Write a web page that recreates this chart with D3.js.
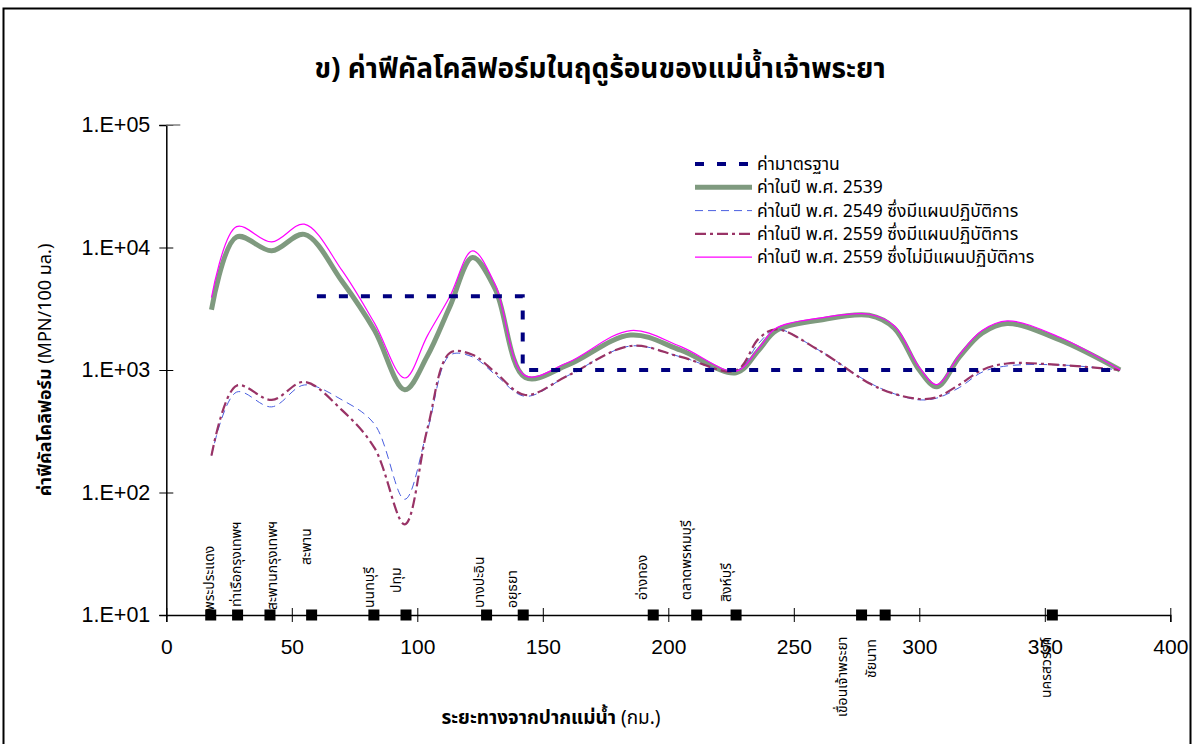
<!DOCTYPE html>
<html>
<head>
<meta charset="utf-8">
<script src="https://cdn.jsdelivr.net/npm/d3@7"></script>
<style>
  html, body { margin: 0; padding: 0; background: #fff; }
  svg { display: block; }
  text { font-family: "Liberation Sans", Arial, "Noto Sans Thai", Tahoma, sans-serif; fill: #000; }
</style>
</head>
<body>
<svg id="chart" width="1195" height="744"></svg>
<script>
// Distance from the river mouth (km) at which each series is sampled
const kms = [18, 28, 42, 55, 70, 83, 95, 104, 113, 122, 131, 143, 160, 185, 205, 227, 236, 243, 260, 280, 290, 300, 307, 316, 325, 335, 356, 380];

// Faecal coliform, MPN/100 ml
const y2539        = [3100, 12200, 9400, 12800, 5300, 2100, 690, 1300, 3300, 8300, 4600, 870, 1100, 1930, 1450, 950, 1450, 2100, 2550, 2800, 2200, 1000, 730, 1280, 2000, 2400, 1760, 1000];
const y2549Plan    = [200, 660, 500, 755, 570, 360, 88, 320, 1320, 1280, 920, 610, 900, 1570, 1280, 980, 1650, 2150, 1450, 790, 640, 570, 590, 720, 960, 1080, 1100, 1000];
const y2559Plan    = [200, 745, 570, 800, 470, 230, 55, 330, 1380, 1330, 960, 625, 900, 1570, 1280, 990, 1800, 2150, 1450, 780, 640, 580, 600, 760, 1000, 1130, 1100, 1000];
const y2559NoPlan  = [3900, 14800, 11100, 15500, 6500, 2400, 860, 1900, 4000, 9400, 5000, 900, 1150, 2100, 1550, 980, 1500, 2200, 2650, 2850, 2300, 1050, 760, 1330, 2100, 2520, 1850, 1000];

// Standard limit (step line)
const stdKm    = [60, 142, 142, 380];
const stdValue = [4000, 4000, 1000, 1000];

// Monitoring stations
const stationKm   = [17.7, 28.4, 41.3, 57.9, 82.7, 95.5, 127.6, 142.2, 194, 211.3, 227, 277, 286.4, 353];
const stationName = ["พระประแดง", "ท่าเรือกรุงเทพฯ", "สะพานกรุงเทพฯ", "สะพาน", "นนทบุรี", "ปทุม", "บางปะอิน", "อยุธยา",
                     "อ่างทอง", "ตลาดพรหมบุรี", "สิงห์บุรี", "เขื่อนเจ้าพระยา", "ชัยนาท", "นครสวรรค์"];

const xTicks = [0, 50, 100, 150, 200, 250, 300, 350, 400];
const yTicks = [10, 100, 1000, 10000, 100000];
const yTickLabels = ["1.E+01", "1.E+02", "1.E+03", "1.E+04", "1.E+05"];

const legendLabels = [
  "ค่ามาตรฐาน",
  "ค่าในปี พ.ศ. 2539",
  "ค่าในปี พ.ศ. 2549 ซึ่งมีแผนปฏิบัติการ",
  "ค่าในปี พ.ศ. 2559 ซึ่งมีแผนปฏิบัติการ",
  "ค่าในปี พ.ศ. 2559 ซึ่งไม่มีแผนปฏิบัติการ"
];

// ---- layout ----
const svg = d3.select("#chart");
const x = d3.scaleLinear().domain([0, 400]).range([166.3, 1170.3]);
const y = d3.scaleLog().domain([10, 100000]).range([615, 125]);

// station label placement: [horizontal shift from marker, text start y]
const labelLayout = [
  [-1, 611], [-1, 607], [3, 610], [-5, 565], [-4, 608], [-9, 593], [-7, 608], [-10, 608],
  [-10, 600], [-10, 600], [-9, 602], [-19, 717], [-13, 678], [-5, 698]
];

const thai = '"Noto Sans Thai", Tahoma, "Liberation Sans", sans-serif';

// outer frame
svg.append("rect").attr("x", 3.5).attr("y", 8.5).attr("width", 1187).attr("height", 760)
  .attr("fill", "none").attr("stroke", "#000").attr("stroke-width", 2);

// title
svg.append("text").attr("x", 600).attr("y", 78).attr("text-anchor", "middle")
  .style("font-family", thai).style("font-size", "28px").style("font-weight", "bold")
  .text("ข) ค่าฟีคัลโคลิฟอร์มในฤดูร้อนของแม่น้ำเจ้าพระยา");

// axes
const yAxis = d3.axisLeft(y).tickValues(yTicks).tickSize(7).tickPadding(9)
  .tickFormat((d, i) => yTickLabels[i]);
const gy = svg.append("g").attr("transform", `translate(${x(0)},0)`).call(yAxis);
gy.select(".domain").attr("stroke", "#000").attr("stroke-width", 1.5);
gy.selectAll(".tick line").attr("x2", -7).attr("x1", 7).attr("stroke", "#000");
gy.selectAll(".tick text").style("font-size", "21.5px").style("font-family", '"Liberation Sans", Arial, sans-serif');

const xAxis = d3.axisBottom(x).tickValues(xTicks).tickSize(7).tickPadding(17).tickFormat(d3.format("d"));
const gx = svg.append("g").attr("transform", `translate(0,${y(10)})`).call(xAxis);
gx.select(".domain").attr("stroke", "#000").attr("stroke-width", 1.5);
gx.selectAll(".tick line").attr("y1", -7).attr("y2", 7).attr("stroke", "#000");
gx.selectAll(".tick text").style("font-size", "21px").style("font-family", '"Liberation Sans", Arial, sans-serif');

// short grey stub at the top of the value axis
svg.append("line").attr("x1", x(0)).attr("x2", x(0) + 14).attr("y1", y(100000)).attr("y2", y(100000))
  .attr("stroke", "#808080").attr("stroke-width", 1.5);

// series
const line = d3.line().x(d => x(d[0])).y(d => y(d[1])).curve(d3.curveCatmullRom.alpha(0.5));
const series = [
  { values: y2539,       stroke: "#7f9a7f", width: 5,   dash: null },
  { values: y2549Plan,   stroke: "#4a5fe0", width: 1,   dash: "8,5" },
  { values: y2559Plan,   stroke: "#993366", width: 2.2, dash: "11,4,3,4" },
  { values: y2559NoPlan, stroke: "#ff00ff", width: 1.2, dash: null }
];
series.forEach(s => {
  svg.append("path").datum(kms.map((k, i) => [k, s.values[i]]))
    .attr("d", line).attr("fill", "none")
    .attr("stroke", s.stroke).attr("stroke-width", s.width)
    .attr("stroke-dasharray", s.dash);
});

// standard limit
svg.append("path").datum(stdKm.map((k, i) => [k, stdValue[i]]))
  .attr("d", d3.line().x(d => x(d[0])).y(d => y(d[1])))
  .attr("fill", "none").attr("stroke", "#000080").attr("stroke-width", 4)
  .attr("stroke-dasharray", "9,13");

// stations
svg.append("g").selectAll("rect").data(stationKm).join("rect")
  .attr("x", d => x(d) - 5.5).attr("y", y(10) - 5.5).attr("width", 11).attr("height", 11).attr("fill", "#000");

svg.append("g").selectAll("text").data(stationName).join("text")
  .attr("transform", (d, i) => `translate(${x(stationKm[i]) + labelLayout[i][0] + 4},${labelLayout[i][1]}) rotate(-90)`)
  .attr("text-anchor", "start")
  .style("font-family", thai).style("font-size", "14px")
  .text(d => d);

// axis titles
const yt = svg.append("text").attr("transform", "translate(51,370) rotate(-90)").attr("text-anchor", "middle")
  .style("font-family", thai).style("font-size", "18px");
yt.append("tspan").style("font-weight", "bold").text("ค่าฟีคัลโคลิฟอร์ม");
yt.append("tspan").text(" (MPN/100 มล.)");

const xt = svg.append("text").attr("x", 551).attr("y", 724).attr("text-anchor", "middle")
  .style("font-family", thai).style("font-size", "19px");
xt.append("tspan").style("font-weight", "bold").text("ระยะทางจากปากแม่น้ำ");
xt.append("tspan").text(" (กม.)");

// legend
const legendStyles = [
  { stroke: "#000080", width: 4, dash: "9,13" },
  { stroke: "#7f9a7f", width: 5, dash: null },
  { stroke: "#4a5fe0", width: 1, dash: "8,5" },
  { stroke: "#993366", width: 2.2, dash: "11,4,3,4" },
  { stroke: "#ff00ff", width: 1.2, dash: null }
];
const lg = svg.append("g").attr("transform", "translate(695,164)");
legendLabels.forEach((t, i) => {
  const row = lg.append("g").attr("transform", `translate(0,${i * 23.3})`);
  row.append("line").attr("x1", 0).attr("x2", 57).attr("y1", 0).attr("y2", 0)
    .attr("stroke", legendStyles[i].stroke).attr("stroke-width", legendStyles[i].width)
    .attr("stroke-dasharray", legendStyles[i].dash);
  row.append("text").attr("x", 62).attr("y", 6)
    .style("font-family", thai).style("font-size", "17.5px").text(t);
});
</script>
</body>
</html>
